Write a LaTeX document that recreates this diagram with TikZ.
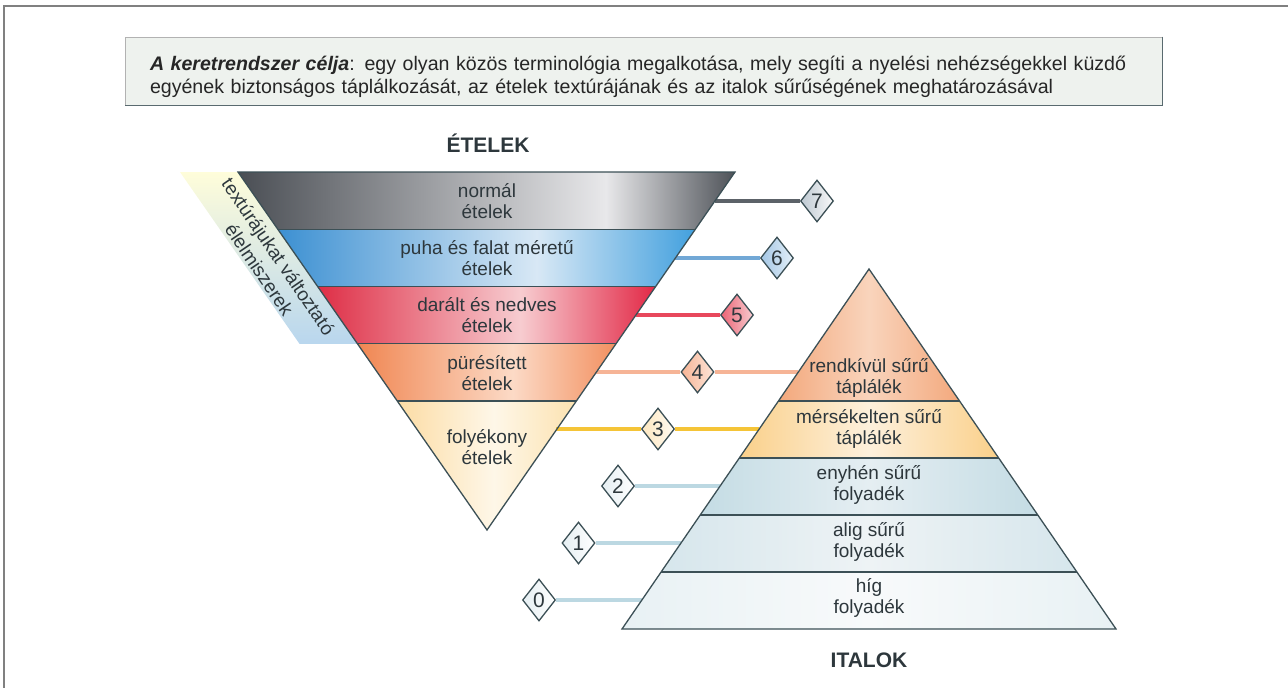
\documentclass[tikz,border=0pt]{standalone}
\usepackage{fontspec}
\setmainfont{Liberation Sans}
\usetikzlibrary{shapes.geometric,calc}
\definecolor{edgeblue}{RGB}{60,80,86}
\definecolor{inktext}{RGB}{45,55,60}
\definecolor{boxfill}{RGB}{238,242,238}
% étel bands
\definecolor{grayL}{RGB}{74,78,84}
\definecolor{grayM}{RGB}{232,232,234}
\definecolor{grayR}{RGB}{78,82,88}
\definecolor{blueL}{RGB}{60,144,210}
\definecolor{blueM}{RGB}{216,232,245}
\definecolor{blueR}{RGB}{66,160,222}
\definecolor{redL}{RGB}{222,46,70}
\definecolor{redM}{RGB}{247,204,208}
\definecolor{redR}{RGB}{226,40,70}
\definecolor{oraL}{RGB}{240,134,82}
\definecolor{oraM}{RGB}{252,218,198}
\definecolor{oraR}{RGB}{242,144,96}
\definecolor{yelL}{RGB}{252,220,164}
\definecolor{yelM}{RGB}{254,247,232}
\definecolor{yelR}{RGB}{252,226,176}
% ital bands
\definecolor{rkL}{RGB}{243,168,124}
\definecolor{rkM}{RGB}{249,212,188}
\definecolor{mkL}{RGB}{250,208,138}
\definecolor{mkM}{RGB}{253,240,220}
\definecolor{enL}{RGB}{196,220,228}
\definecolor{enM}{RGB}{229,238,242}
\definecolor{alL}{RGB}{214,230,236}
\definecolor{alM}{RGB}{238,243,245}
\definecolor{hiL}{RGB}{232,241,244}
\definecolor{hiM}{RGB}{248,250,251}
% links
\definecolor{link7}{RGB}{92,98,104}
\definecolor{link6}{RGB}{114,168,214}
\definecolor{link5}{RGB}{232,72,92}
\definecolor{link4}{RGB}{246,180,150}
\definecolor{link3}{RGB}{245,196,55}
\definecolor{link0}{RGB}{188,216,226}
\pgfdeclarehorizontalshading{grayband}{100bp}{color(0bp)=(grayL); color(25bp)=(grayL); color(62bp)=(grayM); color(75bp)=(grayR); color(100bp)=(grayR)}
\pgfdeclarehorizontalshading{blueband}{100bp}{color(0bp)=(blueL); color(25bp)=(blueL); color(56bp)=(blueM); color(75bp)=(blueR); color(100bp)=(blueR)}
\pgfdeclarehorizontalshading{redband}{100bp}{color(0bp)=(redL); color(25bp)=(redL); color(55bp)=(redM); color(75bp)=(redR); color(100bp)=(redR)}
\pgfdeclarehorizontalshading{oraband}{100bp}{color(0bp)=(oraL); color(25bp)=(oraL); color(55bp)=(oraM); color(75bp)=(oraR); color(100bp)=(oraR)}
\pgfdeclarehorizontalshading{yelband}{100bp}{color(0bp)=(yelL); color(25bp)=(yelL); color(52bp)=(yelM); color(75bp)=(yelR); color(100bp)=(yelR)}
\tikzset{%
    bandtext/.style={align=center,text=inktext,font=\fontsize{19}{20.5}\selectfont},
    headtext/.style={text=inktext,font=\fontsize{21}{21}\selectfont\bfseries},
    level/.style={diamond,draw=edgeblue,line width=1.3pt,minimum width=33pt,minimum height=42pt,inner sep=0pt,text=inktext,font=\fontsize{21}{21}\selectfont},
    link/.style={line width=4pt},
    outline/.style={draw=edgeblue,line width=1.3pt},
    titlebox/.style={fill=boxfill,draw=gray!60,line width=0.8pt,minimum width=1037pt,minimum height=68pt},
    titletext/.style={text width=987pt,inner sep=0pt,align=left,text=black!85,font=\fontsize{19.6}{23.5}\selectfont}
}
\begin{document}
\begin{tikzpicture}[x=1pt,y=-1pt]
\useasboundingbox (0,0) rectangle (1288,688);
\draw[gray,line width=1.2pt] (4,688) -- (4,6) -- (1288,6);
\node[titlebox] (cel) at (643.5,71) {};
\draw[edgeblue!85,line width=1.5pt] (cel.north east) -- (cel.south east) -- (cel.south west);
\node[titletext] (celszoveg) at (643.5,77) {\textbf{\textit{A keretrendszer célja}}: egy olyan közös terminológia megalkotása, mely segíti a nyelési nehézségekkel küzdő\\egyének biztonságos táplálkozását, az ételek textúrájának és az italok sűrűségének meghatározásával};

\coordinate (ftl) at (238,172);
\coordinate (ftr) at (735,172);
\coordinate (fapex) at (487,530);
\shade[top color=yelM!70!yellow!40,bottom color=blueM!80!blueL] (180,172) -- (ftl) -- ($(ftl)!0.48!(fapex)$) -- ++(-58,0) -- cycle;
\node[bandtext,rotate=-55.8,font=\fontsize{19}{23}\selectfont] (textura) at (269,263) {textúrájukat változtató\\élelmiszerek};
\foreach \a/\b/\sh in {0/0.16/grayband,0.16/0.32/blueband,0.32/0.48/redband,0.48/0.64/oraband,0.64/1/yelband}
  \shade[shading=\sh] ($(ftl)!\a!(fapex)$) -- ($(ftr)!\a!(fapex)$) -- ($(ftr)!\b!(fapex)$) -- ($(ftl)!\b!(fapex)$) -- cycle;

\coordinate (iapex) at (869,269);
\coordinate (ibl) at (622,629);
\coordinate (ibr) at (1116,629);
\foreach \a/\b/\cl/\cm in {0/0.367/rkL/rkM,0.367/0.525/mkL/mkM,0.525/0.683/enL/enM,0.683/0.842/alL/alM,0.842/1/hiL/hiM}
  \shade[left color=\cl,right color=\cl,middle color=\cm] ($(iapex)!\a!(ibl)$) -- ($(iapex)!\a!(ibr)$) -- ($(iapex)!\b!(ibr)$) -- ($(iapex)!\b!(ibl)$) -- cycle;

\node[level,left color=gray!30!blueM,right color=gray!5] (d7) at (817,201) {7};
\node[level,left color=link6!65,right color=blueM!70] (d6) at (777,258) {6};
\node[level,left color=link5!85,right color=redM] (d5) at (737,315) {5};
\node[level,left color=link4,right color=oraM!70] (d4) at (697.5,372) {4};
\node[level,left color=yelL!70,right color=yelM!60] (d3) at (658,429) {3};
\node[level,left color=enM,right color=white] (d2) at (618,486) {2};
\node[level,left color=enM,right color=white] (d1) at (578.5,543) {1};
\node[level,left color=enM,right color=white] (d0) at (539,600) {0};

\coordinate (f7) at (714.8,201);
\coordinate (f6) at (675.2,258);
\coordinate (f5) at (635.5,315);
\coordinate (f4) at (595.9,372);
\coordinate (f3) at (556.3,429);
\coordinate (i4) at (798.3,372);
\coordinate (i3) at (759.2,429);
\coordinate (i2) at (720.1,486);
\coordinate (i1) at (681.0,543);
\coordinate (i0) at (641.9,600);
\draw[link,link7] (f7) -- (d7);
\draw[link,link6] (f6) -- (d6);
\draw[link,link5] (f5) -- (d5);
\draw[link,link4] (f4) -- (d4) (d4) -- (i4);
\draw[link,link3] (f3) -- (d3) (d3) -- (i3);
\draw[link,link0] (d2) -- (i2);
\draw[link,link0] (d1) -- (i1);
\draw[link,link0] (d0) -- (i0);

\draw[outline] (ftl) -- (ftr) -- (fapex) -- cycle;
\foreach \a in {0.16,0.32,0.48,0.64}
  \draw[outline] ($(ftl)!\a!(fapex)$) -- ($(ftr)!\a!(fapex)$);
\draw[outline] (iapex) -- (ibr) -- (ibl) -- cycle;
\foreach \a in {0.367,0.525,0.683,0.842}
  \draw[outline] ($(iapex)!\a!(ibl)$) -- ($(iapex)!\a!(ibr)$);

\node[headtext] (etelek) at (488,143) {ÉTELEK};
\node[bandtext] (normal) at (487,201) {normál\\ételek};
\node[bandtext] (puha) at (487,258) {puha és falat méretű\\ételek};
\node[bandtext] (daralt) at (487,315) {darált és nedves\\ételek};
\node[bandtext] (pures) at (487,373) {pürésített\\ételek};
\node[bandtext] (folyekony) at (487,447) {folyékony\\ételek};

\node[headtext] (italok) at (869,660) {ITALOK};
\node[bandtext] (rendkivul) at (869,378) {rendkívül sűrű\\táplálék};
\node[bandtext] (merseklet) at (869,429) {mérsékelten sűrű\\táplálék};
\node[bandtext] (enyhen) at (869,485) {enyhén sűrű\\folyadék};
\node[bandtext] (alig) at (869,542) {alig sűrű\\folyadék};
\node[bandtext] (hig) at (869,598) {híg\\folyadék};
\end{tikzpicture}
\end{document}
